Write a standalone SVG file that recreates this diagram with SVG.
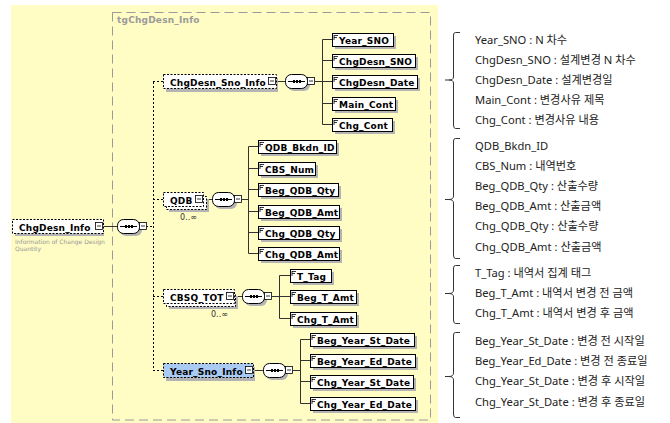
<svg xmlns="http://www.w3.org/2000/svg" width="670" height="423" viewBox="0 0 670 423">
<style>
.bg{fill:#fffcc4}
.grp{fill:none;stroke:#9a9a9a;stroke-width:1;stroke-dasharray:9,5}
.glabel{font-family:"DejaVu Sans",Verdana,sans-serif;font-weight:bold;font-size:9px;fill:#9a9a9a;letter-spacing:0.2px}
.el{fill:#fff;stroke:#000;stroke-width:1}
.opt{fill:#fff;stroke:#000;stroke-width:1;stroke-dasharray:2,1.5}
.sel{fill:#a9caf2;stroke:#000;stroke-width:1;stroke-dasharray:2,1.5}
.sh{fill:#b4b4b4}
.lbl{font-family:"DejaVu Sans",Verdana,sans-serif;font-weight:bold;font-size:9px;fill:#000;letter-spacing:0.2px}
.occ{font-family:"DejaVu Sans",Verdana,sans-serif;font-size:8px;fill:#333}
.desc{font-family:"DejaVu Sans",Verdana,sans-serif;font-size:6px;fill:#999}
.ln{fill:none;stroke:#333;stroke-width:1}
.dl{fill:none;stroke:#000;stroke-width:1;stroke-dasharray:2,2}
.cmp{fill:#fff;stroke:#000;stroke-width:1}
.mb{fill:#fff;stroke:#000;stroke-width:0.8}
.ic{fill:none;stroke:#000;stroke-width:0.8}
.note{font-family:"Noto Sans","Noto Sans CJK KR",sans-serif;font-size:11.2px;fill:#222}
.br{fill:none;stroke:#333;stroke-width:1}
</style>
<defs>
<g id="minus"><rect class="mb" x="0.5" y="0.5" width="7" height="7"/><line x1="2" y1="4" x2="6" y2="4" stroke="#000" stroke-width="0.8"/></g>
<g id="seq">
<rect class="sh" x="3" y="3" width="22" height="14" rx="6"/>
<rect class="cmp" x="0.5" y="0.5" width="22" height="14" rx="6"/>
<line x1="3" y1="7.5" x2="20" y2="7.5" stroke="#000" stroke-width="1"/>
<rect x="8" y="6" width="2" height="3" fill="#000"/><rect x="11" y="6" width="2" height="3" fill="#000"/><rect x="14" y="6" width="2" height="3" fill="#000"/>
</g>
<g id="eic"><path class="ic" d="M2,2.5 H6 M2,4.5 H5 M2,2 V7"/></g>
</defs>

<rect class="bg" x="11" y="5" width="427" height="418"/>
<rect class="grp" x="112.5" y="12.5" width="318" height="407.5"/>
<text class="glabel" x="117" y="23">tgChgDesn_Info</text>

<g id="connectors">
<line class="ln" x1="104" y1="226.5" x2="117" y2="226.5"/>
<line class="dl" x1="146" y1="226.5" x2="153" y2="226.5"/>
<line class="dl" x1="153.5" y1="82" x2="153.5" y2="371"/>
<line class="dl" x1="153" y1="81.5" x2="163" y2="81.5"/>
<line class="dl" x1="153" y1="199.5" x2="163" y2="199.5"/>
<line class="dl" x1="153" y1="296.5" x2="163" y2="296.5"/>
<line class="dl" x1="153" y1="370.5" x2="163" y2="370.5"/>
<line class="ln" x1="277" y1="81.5" x2="285" y2="81.5"/>
<line class="ln" x1="315" y1="81.5" x2="322" y2="81.5"/>
<path class="ln" d="M332,39.5 H322.5 V124.5 H332 M322,60.5 H332 M322,81.5 H332 M322,103.5 H332"/>
<line class="ln" x1="203" y1="199.5" x2="212" y2="199.5"/>
<line class="ln" x1="242" y1="199.5" x2="248" y2="199.5"/>
<path class="ln" d="M258,146.5 H248.5 V253.5 H258 M248,168.5 H258 M248,189.5 H258 M248,211.5 H258 M248,232.5 H258"/>
<line class="ln" x1="235" y1="296.5" x2="242" y2="296.5"/>
<line class="ln" x1="272" y1="296.5" x2="279" y2="296.5"/>
<path class="ln" d="M290,275.5 H279.5 V318.5 H290 M279,296.5 H290"/>
<line class="ln" x1="253" y1="370.5" x2="263" y2="370.5"/>
<line class="ln" x1="293" y1="370.5" x2="300" y2="370.5"/>
<path class="ln" d="M310,339.5 H300.5 V403.5 H310 M300,360.5 H310 M300,381.5 H310"/>
</g>

<g id="ChgDesn_Info">
<rect class="sh" x="15" y="222" width="89" height="14"/>
<rect class="opt" x="12.5" y="219.5" width="91" height="14"/>
<text class="lbl" x="19" y="230.5">ChgDesn_Info</text>
<use href="#minus" x="95" y="222"/>
<text class="desc" x="15" y="244">Information of Change Design</text>
<text class="desc" x="15" y="251">Quantity</text>
</g>
<g id="seq_root"><use href="#seq" x="117" y="219"/><use href="#minus" x="139" y="222"/></g>

<g id="ChgDesn_Sno_Info">
<rect class="sh" x="166" y="78" width="112" height="14"/>
<rect class="opt" x="163.5" y="74.5" width="113" height="14"/>
<text class="lbl" x="170" y="85.5">ChgDesn_Sno_Info</text>
<use href="#minus" x="268" y="77"/>
</g>
<g id="seq1"><use href="#seq" x="285" y="74"/><use href="#minus" x="307" y="77"/></g>

<g id="Year_SNO"><rect class="sh" x="335" y="36" width="61" height="13"/><rect class="el" x="332.5" y="33.5" width="61" height="13"/><use href="#eic" x="332" y="33"/><text class="lbl" x="339" y="43.5">Year_SNO</text></g>
<g id="ChgDesn_SNO"><rect class="sh" x="335" y="57" width="83" height="13"/><rect class="el" x="332.5" y="54.5" width="83" height="13"/><use href="#eic" x="332" y="54"/><text class="lbl" x="339" y="64.5">ChgDesn_SNO</text></g>
<g id="ChgDesn_Date"><rect class="sh" x="335" y="78" width="85" height="13"/><rect class="el" x="332.5" y="75.5" width="85" height="13"/><use href="#eic" x="332" y="75"/><text class="lbl" x="339" y="85.5">ChgDesn_Date</text></g>
<g id="Main_Cont"><rect class="sh" x="335" y="100" width="63" height="13"/><rect class="el" x="332.5" y="97.5" width="63" height="13"/><use href="#eic" x="332" y="97"/><text class="lbl" x="339" y="107.5">Main_Cont</text></g>
<g id="Chg_Cont"><rect class="sh" x="335" y="121" width="60" height="13"/><rect class="el" x="332.5" y="118.5" width="60" height="13"/><use href="#eic" x="332" y="118"/><text class="lbl" x="339" y="128.5">Chg_Cont</text></g>

<g id="QDB">
<rect class="sh" x="169" y="199" width="40" height="13"/>
<rect class="opt" x="166.5" y="196.5" width="40" height="13"/>
<rect class="opt" x="163.5" y="192.5" width="40" height="14"/>
<text class="lbl" x="170" y="203.5">QDB</text>
<use href="#minus" x="195" y="195"/>
<text class="occ" x="180" y="220">0..∞</text>
</g>
<g id="seq2"><use href="#seq" x="212" y="192"/><use href="#minus" x="234" y="195"/></g>

<g id="QDB_Bkdn_ID"><rect class="sh" x="261" y="143" width="78" height="13"/><rect class="el" x="258.5" y="140.5" width="78" height="13"/><use href="#eic" x="258" y="140"/><text class="lbl" x="265" y="150.5">QDB_Bkdn_ID</text></g>
<g id="CBS_Num"><rect class="sh" x="261" y="165" width="57" height="13"/><rect class="el" x="258.5" y="162.5" width="57" height="13"/><use href="#eic" x="258" y="162"/><text class="lbl" x="265" y="172.5">CBS_Num</text></g>
<g id="Beg_QDB_Qty"><rect class="sh" x="261" y="186" width="80" height="13"/><rect class="el" x="258.5" y="183.5" width="80" height="13"/><use href="#eic" x="258" y="183"/><text class="lbl" x="265" y="193.5">Beg_QDB_Qty</text></g>
<g id="Beg_QDB_Amt"><rect class="sh" x="261" y="208" width="81" height="13"/><rect class="el" x="258.5" y="205.5" width="81" height="13"/><use href="#eic" x="258" y="205"/><text class="lbl" x="265" y="215.5">Beg_QDB_Amt</text></g>
<g id="Chg_QDB_Qty"><rect class="sh" x="261" y="229" width="81" height="13"/><rect class="el" x="258.5" y="226.5" width="81" height="13"/><use href="#eic" x="258" y="226"/><text class="lbl" x="265" y="236.5">Chg_QDB_Qty</text></g>
<g id="Chg_QDB_Amt"><rect class="sh" x="261" y="250" width="81" height="13"/><rect class="el" x="258.5" y="247.5" width="81" height="13"/><use href="#eic" x="258" y="247"/><text class="lbl" x="265" y="257.5">Chg_QDB_Amt</text></g>

<g id="CBSQ_TOT">
<rect class="sh" x="169" y="296" width="69" height="13"/>
<rect class="opt" x="166.5" y="293.5" width="69" height="13"/>
<rect class="opt" x="163.5" y="289.5" width="71" height="14"/>
<text class="lbl" x="170" y="300.5">CBSQ_TOT</text>
<use href="#minus" x="226" y="292"/>
<text class="occ" x="211" y="317">0..∞</text>
</g>
<g id="seq3"><use href="#seq" x="242" y="289"/><use href="#minus" x="264" y="292"/></g>

<g id="T_Tag"><rect class="sh" x="293" y="272" width="41" height="13"/><rect class="el" x="290.5" y="269.5" width="41" height="13"/><use href="#eic" x="290" y="269"/><text class="lbl" x="297" y="279.5">T_Tag</text></g>
<g id="Beg_T_Amt"><rect class="sh" x="293" y="293" width="66" height="13"/><rect class="el" x="290.5" y="290.5" width="66" height="13"/><use href="#eic" x="290" y="290"/><text class="lbl" x="297" y="300.5">Beg_T_Amt</text></g>
<g id="Chg_T_Amt"><rect class="sh" x="293" y="315" width="66" height="13"/><rect class="el" x="290.5" y="312.5" width="66" height="13"/><use href="#eic" x="290" y="312"/><text class="lbl" x="297" y="322.5">Chg_T_Amt</text></g>

<g id="Year_Sno_Info">
<rect class="sh" x="166" y="367" width="89" height="14"/>
<rect class="sel" x="163.5" y="363.5" width="90" height="14"/>
<text class="lbl" x="170" y="374.5">Year_Sno_Info</text>
<use href="#minus" x="245" y="366"/>
</g>
<g id="seq4"><use href="#seq" x="263" y="363"/><use href="#minus" x="285" y="366"/></g>

<g id="Beg_Year_St_Date"><rect class="sh" x="313" y="336" width="104" height="13"/><rect class="el" x="310.5" y="333.5" width="104" height="13"/><use href="#eic" x="310" y="333"/><text class="lbl" x="317" y="343.5">Beg_Year_St_Date</text></g>
<g id="Beg_Year_Ed_Date"><rect class="sh" x="313" y="357" width="105" height="13"/><rect class="el" x="310.5" y="354.5" width="105" height="13"/><use href="#eic" x="310" y="354"/><text class="lbl" x="317" y="364.5">Beg_Year_Ed_Date</text></g>
<g id="Chg_Year_St_Date"><rect class="sh" x="313" y="378" width="103" height="13"/><rect class="el" x="310.5" y="375.5" width="103" height="13"/><use href="#eic" x="310" y="375"/><text class="lbl" x="317" y="385.5">Chg_Year_St_Date</text></g>
<g id="Chg_Year_Ed_Date"><rect class="sh" x="313" y="400" width="105" height="13"/><rect class="el" x="310.5" y="397.5" width="105" height="13"/><use href="#eic" x="310" y="397"/><text class="lbl" x="317" y="407.5">Chg_Year_Ed_Date</text></g>

<g id="notes">
<path class="br" d="M460,32.5 H455.5 Q453.5,32.5 453.5,35 V77 Q453.5,80 449,80 H445 M449,80 Q453.5,80 453.5,83 V125 Q453.5,128.5 455.5,128.5 H460"/>
<path class="br" d="M460,138.5 H455.5 Q453.5,138.5 453.5,141 V196 Q453.5,199.5 449,199.5 H445 M449,199.5 Q453.5,199.5 453.5,203 V255 Q453.5,258.5 455.5,258.5 H460"/>
<path class="br" d="M460,265.5 H455.5 Q453.5,265.5 453.5,268 V290 Q453.5,293.5 449,293.5 H445 M449,293.5 Q453.5,293.5 453.5,297 V320 Q453.5,323.5 455.5,323.5 H460"/>
<path class="br" d="M460,332.5 H455.5 Q453.5,332.5 453.5,335 V373 Q453.5,376.5 449,376.5 H445 M449,376.5 Q453.5,376.5 453.5,380 V414 Q453.5,417.5 455.5,417.5 H460"/>
<text class="note" x="475" y="44">Year_SNO : N 차수</text>
<text class="note" x="475" y="64">ChgDesn_SNO : 설계변경 N 차수</text>
<text class="note" x="475" y="84">ChgDesn_Date : 설계변경일</text>
<text class="note" x="475" y="104">Main_Cont : 변경사유 제목</text>
<text class="note" x="475" y="124">Chg_Cont : 변경사유 내용</text>
<text class="note" x="475" y="150">QDB_Bkdn_ID</text>
<text class="note" x="475" y="170">CBS_Num : 내역번호</text>
<text class="note" x="475" y="190">Beg_QDB_Qty : 산출수량</text>
<text class="note" x="475" y="210">Beg_QDB_Amt : 산출금액</text>
<text class="note" x="475" y="230">Chg_QDB_Qty : 산출수량</text>
<text class="note" x="475" y="251">Chg_QDB_Amt : 산출금액</text>
<text class="note" x="475" y="277">T_Tag : 내역서 집계 태그</text>
<text class="note" x="475" y="297">Beg_T_Amt : 내역서 변경 전 금액</text>
<text class="note" x="475" y="317">Chg_T_Amt : 내역서 변경 후 금액</text>
<text class="note" x="475" y="345">Beg_Year_St_Date : 변경 전 시작일</text>
<text class="note" x="475" y="365">Beg_Year_Ed_Date : 변경 전 종료일</text>
<text class="note" x="475" y="385">Chg_Year_St_Date : 변경 후 시작일</text>
<text class="note" x="475" y="406">Chg_Year_St_Date : 변경 후 종료일</text>
</g>
</svg>
